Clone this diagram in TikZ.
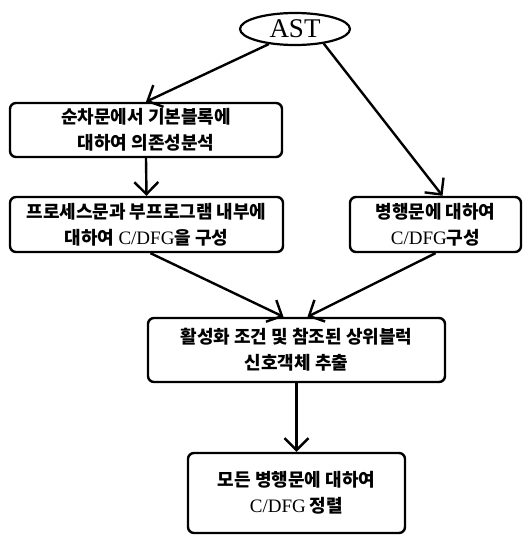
\documentclass[tikz,border=0pt]{standalone}
\usepackage{fontspec}
\setmainfont{Liberation Serif}
\newfontfamily\kr{Noto Sans CJK KR}
\newcommand\lat[1]{{\fontsize{19}{25}\selectfont\rmfamily\mdseries #1}}
\usetikzlibrary{arrows.meta,shapes.geometric}
\tikzset{
  box/.style={draw, line width=2.4pt, rounded corners=6pt, align=center, inner sep=0pt,
    font=\fontsize{18}{26}\selectfont\kr\bfseries},
  conn/.style={line width=2.4pt, -{Straight Barb[length=12pt,width=24pt,line width=2.4pt]}},
}
\begin{document}
\begin{tikzpicture}[x=1pt,y=1pt]
\useasboundingbox (0,0) rectangle (524,-535);
\node[draw, ellipse, line width=2.2pt, minimum width=110pt, minimum height=32pt, inner sep=0pt,
  font=\fontsize{27}{27}\selectfont\rmfamily] (ast) at (295,-29) {AST};
\node[box, minimum width=272pt, minimum height=54pt] (b1) at (146,-130)
  {순차문에서 기본블록에\\대하여 의존성분석};
\node[box, minimum width=273pt, minimum height=55pt] (b2) at (146.5,-224.5)
  {프로세스문과 부프로그램 내부에\\대하여 \lat{C/DFG}을 구성};
\node[box, minimum width=171pt, minimum height=55pt] (b3) at (435.5,-224.5)
  {병행문에 대하여\\\lat{C/DFG}구성};
\node[box, minimum width=297pt, minimum height=64pt] (b4) at (296.5,-350)
  {활성화 조건 및 참조된 상위블럭\\신호객체 추출};
\node[box, minimum width=217pt, minimum height=80pt] (b5) at (296.5,-493)
  {모든 병행문에 대하여\\\lat{C/DFG} 정렬};
\draw[conn] (ast.210) -- (b1.north);
\draw[conn] (ast.-27) -- ([xshift=7pt]b3.north);
\draw[conn] (b1.south) -- (b2.north);
\draw[conn] ([xshift=4pt]b2.south) -- ([xshift=-13pt]b4.north);
\draw[conn] (b3.south) -- ([xshift=11pt]b4.north);
\draw[conn] (b4.south) -- (b5.north);
\end{tikzpicture}
\end{document}
